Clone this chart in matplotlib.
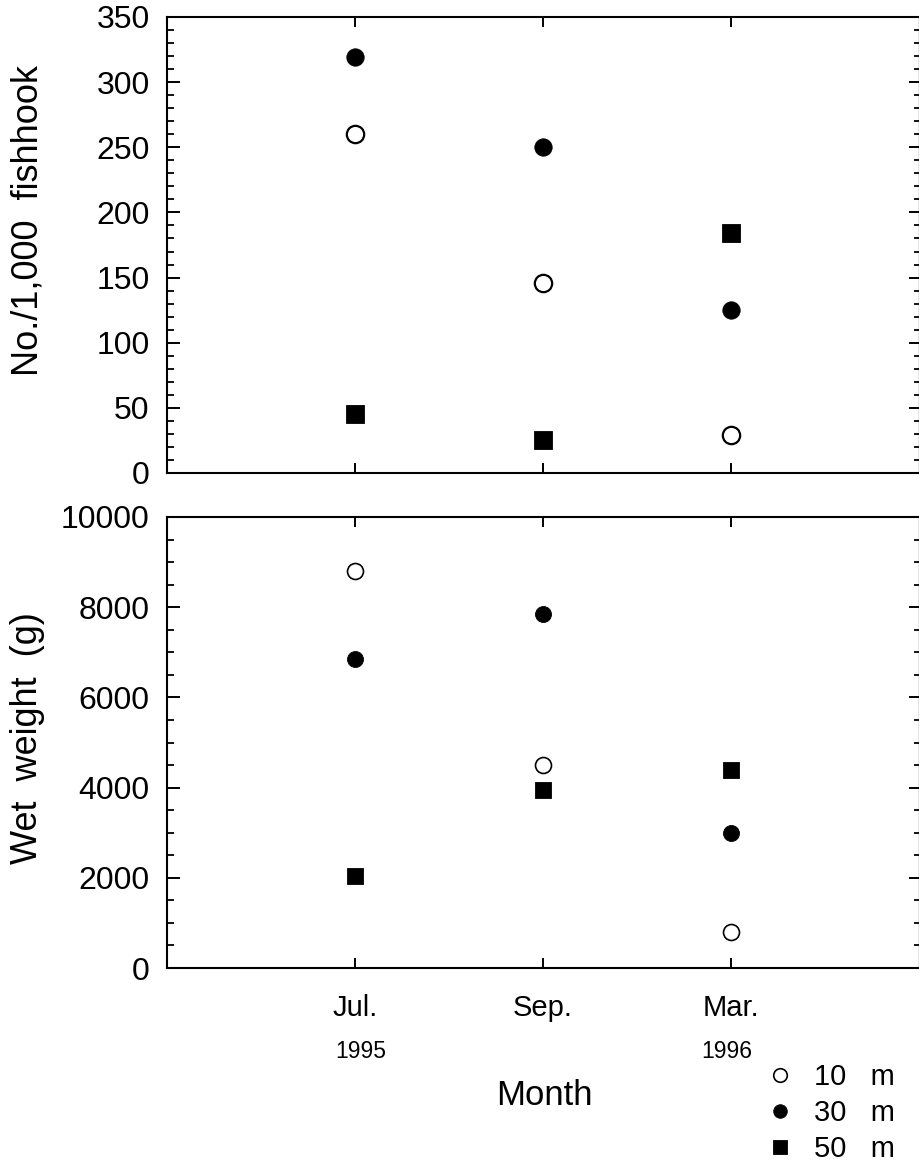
import numpy as np
import matplotlib
matplotlib.use("Agg")
import matplotlib.pyplot as plt
from matplotlib.ticker import MultipleLocator, FixedLocator, NullLocator
from matplotlib.transforms import blended_transform_factory

# ---------------- data ----------------
months = ["Jul.", "Sep.", "Mar."]
years = ["1995", "", "1996"]
depths = ["10   m", "30   m", "50   m"]

catch_10m = [260, 146, 29]
catch_30m = [319, 250, 125]
catch_50m = [45, 25, 184]

weight_10m = [8800, 4500, 800]
weight_30m = [6850, 7860, 3000]
weight_50m = [2050, 3950, 4400]

# ---------------- style ----------------
plt.rcParams["font.family"] = ["Liberation Sans", "DejaVu Sans"]
W, H = 919, 1166
DPI = 100
fig = plt.figure(figsize=(W / DPI, H / DPI), dpi=DPI)
fig.patch.set_facecolor("white")


def fx(px):
    return px / W


def fy(py):
    return 1 - py / H


left_px, right_px = 167, 918.5
ax1 = fig.add_axes([fx(left_px), fy(473), fx(right_px - left_px), (473 - 17) / H])
ax2 = fig.add_axes([fx(left_px), fy(968), fx(right_px - left_px), (968 - 517) / H])

x = np.arange(1, len(months) + 1)

styles = [
    dict(marker="o", mfc="white", mec="black"),
    dict(marker="o", mfc="black", mec="black"),
    dict(marker="s", mfc="black", mec="black"),
]

top_series = [catch_10m, catch_30m, catch_50m]
bot_series = [weight_10m, weight_30m, weight_50m]

handles = []
for vals, st, lab in zip(top_series, styles, depths):
    ax1.plot(x, vals, linestyle="none", ms=12.5,
             mew=1.6 if st["mfc"] == "white" else 0.6, **st)
for vals, st, lab in zip(bot_series, styles, depths):
    h, = ax2.plot(x, vals, linestyle="none", ms=11.5,
                  mew=1.2 if st["mfc"] == "white" else 0.6, label=lab, **st)
    handles.append(h)

for ax, ymax, major, minor in [(ax1, 350, 50, 10), (ax2, 10000, 2000, 500)]:
    ax.set_xlim(0, 4)
    ax.set_ylim(0, ymax)
    ax.xaxis.set_major_locator(FixedLocator(x))
    ax.xaxis.set_minor_locator(NullLocator())
    ax.yaxis.set_major_locator(MultipleLocator(major))
    ax.yaxis.set_minor_locator(MultipleLocator(minor))
    for s in ax.spines.values():
        s.set_linewidth(1.5)
    ax.spines["right"].set_linewidth(0.8)
    ax.tick_params(axis="x", which="major", direction="in", top=True, bottom=True,
                   length=7.5, width=1.4)
    ax.tick_params(axis="y", which="major", direction="in", left=True, right=False,
                   length=9.5, width=1.4, labelsize=23, pad=12.5)
    ax.tick_params(axis="y", which="minor", direction="in", left=True, right=False,
                   length=5, width=1.3)
    sec = ax.secondary_yaxis("right")
    sec.yaxis.set_major_locator(MultipleLocator(major))
    sec.yaxis.set_minor_locator(MultipleLocator(minor))
    sec.tick_params(axis="y", which="major", direction="in", length=7, width=1.4,
                    labelright=False)
    sec.tick_params(axis="y", which="minor", direction="in", length=3.5, width=1.3)
    sec.spines["right"].set_linewidth(0.8)

ax1.tick_params(axis="x", labelbottom=False)
ax2.set_xticklabels(months)
ax2.tick_params(axis="x", labelsize=21, pad=19)

# years under month labels
trans = blended_transform_factory(ax2.transData, fig.transFigure)
year_offsets = [0.03, 0.0, -0.02]
for xi, yr, off in zip(x, years, year_offsets):
    if yr:
        ax2.text(xi + off, fy(1058), yr, transform=trans, ha="center",
                 va="baseline", fontsize=16.5)

# axis titles
fig.text(fx(28), fy(220), "No./1,000  fishhook", rotation=90, ha="center",
         va="center", fontsize=26)
fig.text(fx(28), fy(738), "Wet  weight  (g)", rotation=90, ha="center",
         va="center", fontsize=26)
fig.text(fx(544), fy(1105), "Month", ha="center", va="baseline", fontsize=25)

# legend
leg = fig.legend(handles=handles, labels=depths, loc="upper left",
                 bbox_to_anchor=(fx(767), fy(1063)), frameon=False,
                 fontsize=21, handlelength=0.88, handletextpad=0.72,
                 borderpad=0, borderaxespad=0, labelspacing=0.27,
                 numpoints=1, markerscale=0.85)

fig.savefig("out.png", dpi=DPI, facecolor="white")
